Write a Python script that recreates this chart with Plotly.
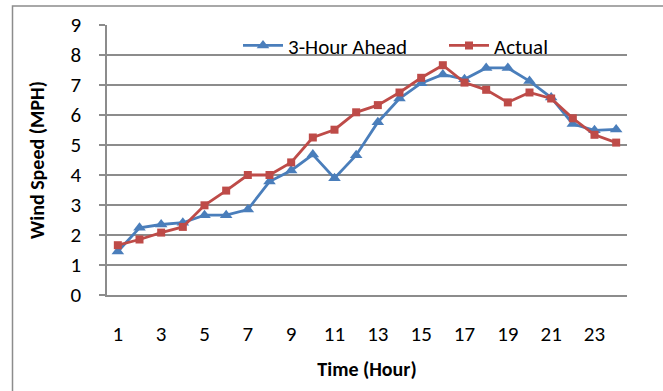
import plotly.graph_objects as go

hours = list(range(1, 25))
ahead = [1.45, 2.24, 2.35, 2.41, 2.66, 2.66, 2.85, 3.78, 4.15, 4.68, 3.89, 4.66,
         5.76, 6.55, 7.06, 7.35, 7.19, 7.57, 7.57, 7.13, 6.58, 5.70, 5.49, 5.52]
actual = [1.66, 1.85, 2.08, 2.27, 2.99, 3.48, 4.00, 4.00, 4.42, 5.25, 5.51, 6.09,
          6.33, 6.75, 7.24, 7.66, 7.08, 6.84, 6.42, 6.75, 6.55, 5.89, 5.34, 5.08]
x_ticks = [1, 3, 5, 7, 9, 11, 13, 15, 17, 19, 21, 23]
y_ticks = list(range(0, 10))

FONT = "Carlito, Calibri, Lato, sans-serif"
BLUE = "#4A7EBB"
RED = "#BE4B48"
GRID = "#8C8C8C"

fig = go.Figure()
fig.add_trace(go.Scatter(
    x=hours, y=ahead, name="3-Hour Ahead", mode="lines+markers",
    line=dict(color=BLUE, width=2.8),
    marker=dict(symbol="triangle-up", size=11, color=BLUE),
))
fig.add_trace(go.Scatter(
    x=hours, y=actual, name="Actual", mode="lines+markers",
    line=dict(color=RED, width=2.8),
    marker=dict(symbol="square", size=8, color=RED),
))

W, H = 663, 391
L, R, T, B = 107, 36, 22, 96
pw, ph = W - L - R, H - T - B

fig.update_layout(
    width=W, height=H,
    margin=dict(l=L, r=R, t=T, b=B),
    paper_bgcolor="white", plot_bgcolor="white",
    font=dict(family=FONT, size=21, color="black"),
    showlegend=True,
    legend=dict(
        orientation="h", x=(238 - L) / pw, y=(H - B - 43) / ph,
        xanchor="left", yanchor="middle",
        bgcolor="rgba(0,0,0,0)", font=dict(size=21),
        itemwidth=40, tracegroupgap=0,
        entrywidth=151, entrywidthmode="pixels",
    ),
    xaxis=dict(
        range=[0.5, 24.5], tickmode="array", tickvals=x_ticks,
        ticktext=[str(v) for v in x_ticks],
        showgrid=False, zeroline=False, showline=True,
        linecolor=GRID, linewidth=1.5, ticks="",
        ticklabelstandoff=19,
        title=dict(text="<b>Time (Hour)</b>", font=dict(size=20), standoff=16),
    ),
    yaxis=dict(
        range=[0, 9], tickmode="array", tickvals=y_ticks,
        showgrid=True, gridcolor=GRID, gridwidth=1.5,
        zeroline=False, showline=True, linecolor=GRID, linewidth=1.5,
        ticks="outside", ticklen=6, tickcolor=GRID, tickwidth=1.5,
        ticklabelstandoff=14,
        title=dict(text="<b>Wind Speed (MPH)</b>", font=dict(size=20), standoff=20),
    ),
    shapes=[dict(
        type="rect", xref="paper", yref="paper",
        x0=(12.5 - L) / pw, x1=(720 - L) / pw,
        y0=(H - B - 450) / ph, y1=(H - B - 2.7) / ph,
        line=dict(color="#8C8C8C", width=1.5), fillcolor="rgba(0,0,0,0)",
        layer="below",
    )],
)

fig.write_html("out.html")
